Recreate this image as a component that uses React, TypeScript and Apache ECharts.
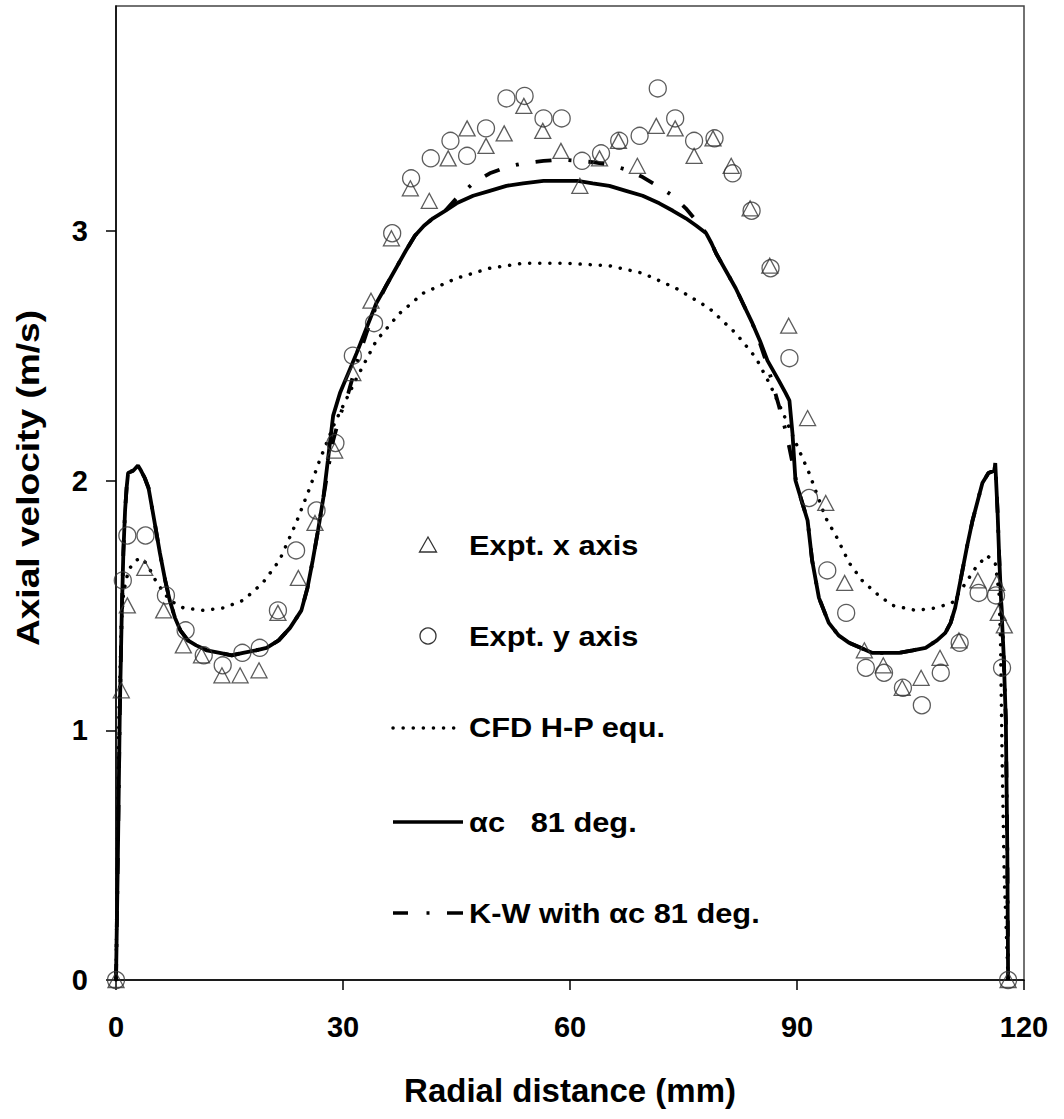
import React, { useEffect, useRef } from "react";
import * as echarts from "echarts";

// ---- axis ticks ----
const X_TICKS = [0, 30, 60, 90, 120];
const Y_TICKS = [0, 1, 2, 3];

// ---- experimental data: [radial distance (mm), axial velocity (m/s)] ----
const exptXAxis: [number, number][] = [
  [0, 0], [0.7, 1.16], [1.5, 1.5], [3.8, 1.65], [6.3, 1.48], [8.9, 1.34], [11.3, 1.3], [14.0, 1.22],
  [16.4, 1.22], [18.9, 1.24], [21.4, 1.47], [24.1, 1.61], [26.3, 1.83], [28.9, 2.12], [31.3, 2.43],
  [33.7, 2.72], [36.4, 2.97], [38.9, 3.17], [41.4, 3.12], [43.9, 3.29], [46.4, 3.41], [48.9, 3.34],
  [51.3, 3.39], [53.9, 3.5], [56.4, 3.4], [58.8, 3.32], [61.3, 3.18], [63.9, 3.29], [66.4, 3.36],
  [68.9, 3.26], [71.4, 3.42], [73.9, 3.41], [76.4, 3.3], [78.9, 3.37], [81.3, 3.26], [83.8, 3.09],
  [86.4, 2.86], [88.9, 2.62], [91.4, 2.25], [93.8, 1.91], [96.3, 1.59], [98.9, 1.32], [101.4, 1.26],
  [103.9, 1.17], [106.4, 1.21], [108.9, 1.29], [111.4, 1.36], [113.9, 1.6], [116.4, 1.59],
  [116.6, 1.47], [117.4, 1.42], [117.9, 0],
];

const exptYAxis: [number, number][] = [
  [0, 0], [0.9, 1.6], [1.5, 1.78], [3.9, 1.78], [6.6, 1.54], [9.2, 1.4], [11.6, 1.3], [14.1, 1.26],
  [16.7, 1.31], [19.0, 1.33], [21.4, 1.48], [23.8, 1.72], [26.5, 1.88], [29.0, 2.15], [31.3, 2.5],
  [34.1, 2.63], [36.5, 2.99], [39.0, 3.21], [41.6, 3.29], [44.2, 3.36], [46.4, 3.3], [48.9, 3.41],
  [51.6, 3.53], [54.0, 3.54], [56.5, 3.45], [58.9, 3.45], [61.6, 3.28], [64.1, 3.31], [66.5, 3.36],
  [69.2, 3.38], [71.6, 3.57], [73.9, 3.45], [76.4, 3.36], [79.1, 3.37], [81.5, 3.23], [84.0, 3.08],
  [86.5, 2.85], [89.0, 2.49], [91.6, 1.93], [94.0, 1.64], [96.5, 1.47], [99.1, 1.25], [101.5, 1.23],
  [104.0, 1.17], [106.5, 1.1], [109.0, 1.23], [111.5, 1.35], [114.0, 1.55], [116.3, 1.54],
  [117.1, 1.25], [117.9, 0],
];

// ---- CFD H-P equation ----
const cfdHP: [number, number][] = [
  [0, 0], [0.2, 0.6], [0.4, 1.1], [0.7, 1.42], [1.0, 1.55], [1.4, 1.61], [1.85, 1.65], [2.6, 1.68],
  [3.4, 1.69], [4.2, 1.66], [5.4, 1.59], [7.1, 1.52], [8.9, 1.49], [11.5, 1.48], [14.2, 1.49],
  [16.8, 1.52], [19.4, 1.59], [21.6, 1.68], [23.8, 1.83], [25.6, 1.97], [26.9, 2.08], [28.9, 2.23],
  [31.8, 2.41], [34.4, 2.56], [37.5, 2.67], [40.6, 2.75], [45.0, 2.81], [49.4, 2.85], [53.8, 2.87],
  [59.5, 2.87], [65.2, 2.86], [69.6, 2.83], [74.0, 2.77], [78.4, 2.69], [81.9, 2.59], [84.6, 2.49],
  [86.5, 2.38], [88.3, 2.26], [90.0, 2.14], [91.6, 2.03], [93.8, 1.85], [95.3, 1.77], [96.9, 1.67],
  [98.6, 1.6], [100.4, 1.55], [102.6, 1.5], [105.7, 1.48], [108.3, 1.49], [110.5, 1.51], [112.3, 1.59],
  [113.6, 1.65], [115.1, 1.7], [116.2, 1.67], [116.7, 1.55], [116.9, 1.35], [117.1, 0.9],
  [117.4, 0.4], [117.9, 0],
];

// ---- alpha_c 81 deg. ----
const alpha81: [number, number][] = [
  [0, 0], [0.25, 0.5], [0.5, 1.07], [0.75, 1.45], [0.97, 1.71], [1.2, 1.88], [1.4, 1.97], [1.6, 2.03],
  [2.3, 2.04], [2.9, 2.06], [3.3, 2.04], [3.8, 2.01], [4.3, 1.97], [5.0, 1.85], [5.8, 1.71],
  [6.5, 1.6], [7.1, 1.52], [7.8, 1.45], [8.5, 1.4], [9.5, 1.36], [10.6, 1.34], [12.0, 1.32],
  [13.7, 1.31], [15.3, 1.3], [16.8, 1.31], [18.5, 1.32], [19.9, 1.33], [21.5, 1.36], [23.0, 1.41],
  [24.5, 1.48], [25.3, 1.57], [26.0, 1.68], [26.7, 1.8], [27.4, 1.93], [28.0, 2.08], [28.7, 2.26],
  [29.6, 2.35], [30.7, 2.43], [31.8, 2.51], [33.1, 2.61], [34.4, 2.71], [35.7, 2.78], [37.0, 2.85],
  [38.3, 2.92], [39.5, 2.98], [40.7, 3.02], [41.9, 3.05], [43.5, 3.08], [45.0, 3.11], [47.2, 3.14],
  [49.4, 3.16], [51.6, 3.18], [53.8, 3.19], [56.5, 3.2], [59.0, 3.2], [61.0, 3.2], [63.0, 3.19],
  [65.2, 3.18], [67.4, 3.16], [69.6, 3.14], [71.8, 3.11], [73.6, 3.08], [75.3, 3.05], [76.7, 3.02],
  [78.0, 2.99], [78.7, 2.95], [79.3, 2.91], [80.6, 2.84], [81.9, 2.77], [83.0, 2.7], [84.1, 2.63],
  [85.1, 2.56], [86.1, 2.48], [87.6, 2.4], [88.5, 2.35], [89.0, 2.32], [89.4, 2.19], [89.8, 2.0],
  [90.3, 1.95], [91.4, 1.84], [92.0, 1.68], [92.9, 1.53], [94.2, 1.43], [95.5, 1.38], [96.9, 1.35],
  [98.4, 1.33], [99.9, 1.31], [101.7, 1.31], [103.5, 1.31], [105.3, 1.32], [107.0, 1.33],
  [108.5, 1.36], [109.6, 1.39], [110.3, 1.43], [110.9, 1.49], [111.8, 1.63], [112.5, 1.74],
  [113.2, 1.84], [114.5, 1.99], [115.3, 2.03], [116.1, 2.04], [116.2, 2.07], [116.5, 1.88],
  [116.7, 1.71], [117.0, 1.5], [117.3, 1.31], [117.6, 1.04], [117.8, 0.5], [117.9, 0],
];

// ---- K-W with alpha_c 81 deg. ----
const kw81: [number, number][] = [
  [0, 0], [0.25, 0.5], [0.5, 1.07], [0.75, 1.45], [0.97, 1.71], [1.2, 1.88], [1.4, 1.97], [1.6, 2.03],
  [2.3, 2.04], [2.9, 2.06], [3.3, 2.04], [3.8, 2.01], [4.3, 1.97], [5.0, 1.85], [5.8, 1.71],
  [6.5, 1.6], [7.1, 1.52], [7.8, 1.45], [8.5, 1.4], [9.5, 1.36], [10.6, 1.34], [12.0, 1.32],
  [13.7, 1.31], [15.3, 1.3], [16.8, 1.31], [18.5, 1.32], [19.9, 1.33], [21.5, 1.36], [23.0, 1.41],
  [24.5, 1.48], [25.3, 1.57], [26.0, 1.68], [26.7, 1.8], [27.4, 1.93], [28.0, 2.04], [28.7, 2.16],
  [29.6, 2.26], [30.7, 2.35], [31.8, 2.47], [33.1, 2.59], [34.4, 2.7], [35.7, 2.78], [37.0, 2.85],
  [38.3, 2.92], [39.5, 2.98], [40.7, 3.02], [41.9, 3.05], [43.5, 3.08], [45.0, 3.13], [47.2, 3.19],
  [49.4, 3.23], [51.6, 3.255], [53.8, 3.27], [56.5, 3.28], [59.0, 3.285], [61.0, 3.28], [63.0, 3.275],
  [65.2, 3.265], [67.4, 3.245], [69.6, 3.215], [71.8, 3.175], [73.6, 3.14], [75.3, 3.09], [76.7, 3.04],
  [78.0, 2.99], [78.7, 2.95], [79.3, 2.91], [80.6, 2.84], [81.9, 2.77], [83.0, 2.7], [84.1, 2.63],
  [85.1, 2.55], [86.1, 2.46], [87.6, 2.3], [88.5, 2.2], [89.0, 2.13], [89.4, 2.07], [89.8, 2.01],
  [90.3, 1.95], [91.4, 1.84], [92.0, 1.68], [92.9, 1.53], [94.2, 1.43], [95.5, 1.38], [96.9, 1.35],
  [98.4, 1.33], [99.9, 1.31], [101.7, 1.31], [103.5, 1.31], [105.3, 1.32], [107.0, 1.33],
  [108.5, 1.36], [109.6, 1.39], [110.3, 1.43], [110.9, 1.49], [111.8, 1.63], [112.5, 1.74],
  [113.2, 1.84], [114.5, 1.99], [115.3, 2.03], [116.1, 2.04], [116.2, 2.07], [116.5, 1.88],
  [116.7, 1.71], [117.0, 1.5], [117.3, 1.31], [117.6, 1.04], [117.8, 0.5], [117.9, 0],
];

const NAMES = ["Expt. x axis", "Expt. y axis", "CFD H-P equ.", "αc   81 deg.", "K-W with αc 81 deg."];
const X_TITLE = "Radial distance (mm)";
const Y_TITLE = "Axial velocity (m/s)";

const FONT = '"Liberation Sans", Arial, Helvetica, sans-serif';

export default function App() {
  const ref = useRef<HTMLDivElement>(null);

  useEffect(() => {
    if (!ref.current) return;
    const chart = echarts.init(ref.current, undefined, { renderer: "svg" });

    const legendText = (text: string, y: number) => ({
      type: "text",
      x: 469,
      y,
      scaleX: 1.14,
      style: {
        text,
        fill: "#000",
        fontSize: 27,
        fontWeight: "bold",
        fontFamily: FONT,
        verticalAlign: "middle",
        align: "left",
      },
    });

    const option: any = {
      animation: false,
      backgroundColor: "#fff",
      grid: {
        left: 116,
        right: 40,
        top: 6,
        bottom: 139,
        show: true,
        borderColor: "#444",
        borderWidth: 1.5,
        containLabel: false,
        outerBoundsMode: "none",
      },
      xAxis: {
        type: "value",
        min: 0,
        max: 120,
        interval: 30,
        name: X_TITLE,
        nameLocation: "middle",
        nameGap: 94,
        nameTextStyle: { fontSize: 33, fontWeight: "bold", fontFamily: FONT, color: "#000" },
        axisLine: { show: true, lineStyle: { color: "#000", width: 1.5 } },
        axisTick: { show: true, inside: false, length: 10, lineStyle: { color: "#000", width: 1.5 }, customValues: X_TICKS },
        axisLabel: {
          margin: 32,
          fontSize: 29,
          fontWeight: "bold",
          fontFamily: FONT,
          color: "#000",
          customValues: X_TICKS,
        },
        splitLine: { show: false },
      },
      yAxis: {
        type: "value",
        min: 0,
        max: 3.9,
        interval: 1,
        axisLine: { show: true, lineStyle: { color: "#000", width: 1.5 } },
        axisTick: { show: true, inside: false, length: 10, lineStyle: { color: "#000", width: 1.5 }, customValues: Y_TICKS },
        axisLabel: {
          margin: 28,
          fontSize: 29,
          fontWeight: "bold",
          fontFamily: FONT,
          color: "#000",
          customValues: Y_TICKS,
        },
        splitLine: { show: false },
      },
      series: [
        {
          name: NAMES[2],
          type: "line",
          data: cfdHP,
          symbol: "none",
          lineStyle: { color: "#000", width: 3.5, type: [0.1, 10], cap: "round" },
          z: 2,
        },
        {
          name: NAMES[3],
          type: "line",
          data: alpha81,
          symbol: "none",
          lineStyle: { color: "#000", width: 3.8, type: "solid" },
          z: 3,
        },
        {
          name: NAMES[4],
          type: "line",
          data: kw81,
          symbol: "none",
          lineStyle: { color: "#000", width: 3.8, type: [16, 17, 3, 17], cap: "butt" },
          z: 4,
        },
        {
          name: NAMES[0],
          type: "scatter",
          data: exptXAxis,
          symbol: "triangle",
          symbolSize: [16, 15],
          itemStyle: { color: "rgba(0,0,0,0)", borderColor: "#333", borderWidth: 1.3 },
          z: 5,
        },
        {
          name: NAMES[1],
          type: "scatter",
          data: exptYAxis,
          symbol: "circle",
          symbolSize: 17,
          itemStyle: { color: "rgba(0,0,0,0)", borderColor: "#333", borderWidth: 1.3 },
          z: 5,
        },
      ],
      graphic: [
        {
          type: "text",
          x: 28,
          y: 478,
          rotation: Math.PI / 2,
          scaleX: 1.16,
          style: {
            text: Y_TITLE,
            fill: "#000",
            fontSize: 32,
            fontWeight: "bold",
            fontFamily: FONT,
            align: "center",
            verticalAlign: "middle",
          },
        },
        {
          type: "polygon",
          shape: { points: [[428, 537], [419.5, 552], [436.5, 552]] },
          style: { fill: "none", stroke: "#333", lineWidth: 1.3 },
        },
        legendText(NAMES[0], 546),
        {
          type: "circle",
          shape: { cx: 428, cy: 636, r: 8 },
          style: { fill: "none", stroke: "#333", lineWidth: 1.3 },
        },
        legendText(NAMES[1], 637),
        {
          type: "line",
          shape: { x1: 393, y1: 728, x2: 455, y2: 728 },
          style: { stroke: "#000", lineWidth: 3.5, lineDash: [0.1, 10], lineCap: "round" },
        },
        legendText(NAMES[2], 728),
        {
          type: "line",
          shape: { x1: 393, y1: 822, x2: 463, y2: 822 },
          style: { stroke: "#000", lineWidth: 3.5 },
        },
        legendText(NAMES[3], 823),
        {
          type: "line",
          shape: { x1: 393, y1: 913, x2: 408, y2: 913 },
          style: { stroke: "#000", lineWidth: 3.5 },
        },
        {
          type: "line",
          shape: { x1: 426.5, y1: 913, x2: 429.5, y2: 913 },
          style: { stroke: "#000", lineWidth: 3.5 },
        },
        {
          type: "line",
          shape: { x1: 447, y1: 913, x2: 463, y2: 913 },
          style: { stroke: "#000", lineWidth: 3.5 },
        },
        legendText(NAMES[4], 914),
      ],
    };

    chart.setOption(option);
    return () => chart.dispose();
  }, []);

  return (
    <div
      ref={ref}
      style={{ position: "absolute", left: 0, top: 0, width: 1064, height: 1119, background: "#fff" }}
    />
  );
}
